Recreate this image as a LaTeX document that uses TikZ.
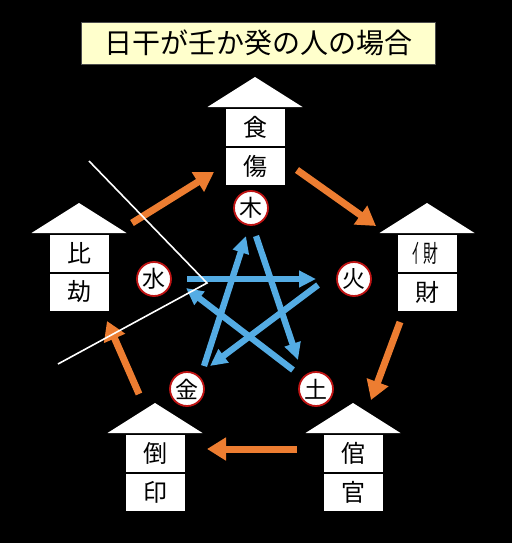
\documentclass[tikz,border=0pt]{standalone}
\usepackage{fontspec}
\newfontfamily\jp{Noto Sans CJK JP}
\usetikzlibrary{arrows.meta,calc}
\definecolor{orng}{RGB}{237,125,49}
\definecolor{sky}{RGB}{84,172,228}
\definecolor{ttl}{RGB}{255,255,204}
\definecolor{ring}{RGB}{192,20,20}
\newcommand{\rootroof}[1]{%
  \fill[white] ($(#1.north)+(-47.5,-1)$) -- ($(#1.north)+(0,-31)$) -- ($(#1.north)+(47.5,-1)$) -- cycle;}
\newcommand{\ninben}{\mbox{\kern-0.12em\scalebox{0.55}[1]{亻}\kern-0.1em\scalebox{0.62}[1]{財}}}
\begin{document}
\begin{tikzpicture}[x=1pt,y=-1pt,
  cell/.style={draw=black,line width=0.8pt,fill=white,minimum width=60pt,minimum height=38pt,inner sep=0pt,outer sep=0pt,font=\jp\fontsize{24}{24}\selectfont},
  elem/.style={circle,draw=ring,line width=1.8pt,fill=white,minimum size=34pt,inner sep=0pt,font=\jp\fontsize{23}{23}\selectfont},
  oarrow/.style={draw=orng,line width=7pt,-{Triangle[width=22pt,length=19pt]}},
  barrow/.style={draw=sky,line width=6.3pt,-{Triangle[width=16pt,length=17pt]}},
  wline/.style={draw=white,line width=1.6pt}]
\fill[black] (0,0) rectangle (512,543);
\useasboundingbox (0,0) rectangle (512,543);
% title
\node[draw=black!70,line width=0.8pt,fill=ttl,minimum width=354pt,minimum height=42pt,inner sep=0pt,font=\jp\fontsize{28}{28}\selectfont] (title) at (258,43) {日干が壬か癸の人の場合};
% houses
\node[cell] (ssA) at (255,127) {食};
\node[cell] (ssB) at (255,166) {傷};
\node[cell] (hkA) at (79,253) {比};
\node[cell] (hkB) at (79,292) {劫};
\node[cell] (zaA) at (427,253) {\ninben};
\node[cell] (zaB) at (427,292) {財};
\node[cell] (inA) at (155,453) {倒};
\node[cell] (inB) at (155,492) {印};
\node[cell] (knA) at (353,453) {倌};
\node[cell] (knB) at (353,492) {官};
\rootroof{ssA}\rootroof{hkA}\rootroof{zaA}\rootroof{inA}\rootroof{knA}
% elements
\node[elem] (moku) at (251,208) {木};
\node[elem] (ka) at (354,279) {火};
\node[elem] (do) at (316,389) {土};
\node[elem] (kin) at (187,389) {金};
\node[elem] (sui) at (154,279) {水};
% orange arrow ends
\coordinate (o1s) at (132,223); \coordinate (o1e) at (214,172);
\coordinate (o2s) at (297,170); \coordinate (o2e) at (376,226);
\coordinate (o3s) at (400,322); \coordinate (o3e) at (371,400);
\coordinate (o4s) at (297,449); \coordinate (o4e) at (207,449);
\coordinate (o5s) at (139,394); \coordinate (o5e) at (107,321);
\draw[oarrow] (o1s) -- (o1e);
\draw[oarrow] (o2s) -- (o2e);
\draw[oarrow] (o3s) -- (o3e);
\draw[oarrow] (o4s) -- (o4e);
\draw[oarrow] (o5s) -- (o5e);
% blue star ends
\coordinate (b1s) at (256,236); \coordinate (b1e) at (298,360);
\coordinate (b2s) at (204,366); \coordinate (b2e) at (246,236);
\coordinate (b3s) at (187,279); \coordinate (b3e) at (316,279);
\coordinate (b4s) at (318,285); \coordinate (b4e) at (210,366);
\coordinate (b5s) at (293,370); \coordinate (b5e) at (186,288);
\draw[barrow] (b1s) -- (b1e);
\draw[barrow] (b2s) -- (b2e);
\draw[barrow] (b3s) -- (b3e);
\draw[barrow] (b4s) -- (b4e);
\draw[barrow] (b5s) -- (b5e);
% white line
\coordinate (w1) at (89,161); \coordinate (w2) at (207,283); \coordinate (w3) at (58,364);
\draw[wline] (w1) -- (w2) -- (w3);
\end{tikzpicture}
\end{document}
